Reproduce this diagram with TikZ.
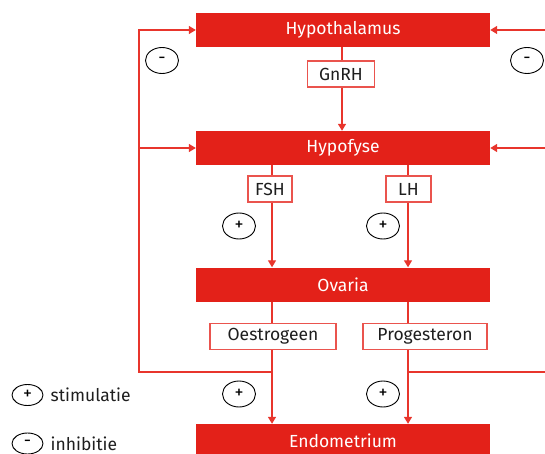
\documentclass[tikz,border=0pt]{standalone}
\usepackage{fontspec}
\setmainfont{Fira Sans}
\usetikzlibrary{positioning,arrows.meta,shapes.geometric}

\definecolor{organred}{HTML}{E32119}
\definecolor{linkred}{HTML}{E8352C}
\definecolor{hormonered}{HTML}{EA544E}
\definecolor{inktext}{HTML}{1E1E1E}

\begin{document}
\begin{tikzpicture} [x=1pt, y=-1pt,
    organ/.style={rectangle,fill=organred,text=white,minimum width=294pt,minimum height=34pt,inner sep=0pt,font=\fontsize{17.5}{20}\selectfont},
    hormone/.style={rectangle,draw=hormonered,line width=1.1pt,fill=white,text=inktext,minimum height=26pt,inner sep=0pt,font=\fontsize{17.5}{20}\selectfont},
    sign/.style={ellipse,draw=black,line width=0.9pt,minimum width=33pt,minimum height=26pt,inner sep=0pt,font=\fontsize{18}{20}\selectfont},
    legend/.style={text=inktext,inner sep=0pt,font=\fontsize{17.5}{20}\selectfont},
    link/.style={draw=linkred,line width=1.3pt},
    feed/.style={link,-{Triangle[length=7pt,width=8pt]}}]
    \useasboundingbox (0,0) rectangle (545,454);

    % organs
    \node[organ] (hypothalamus) at (343,30) {Hypothalamus};
    \node[organ] (hypofyse) at (343,148) {Hypofyse};
    \node[organ] (ovaria) at (343,284.5) {Ovaria};
    \node[organ] (endometrium) at (343,441) {Endometrium};

    % hormones
    \node[hormone,minimum width=67pt] (gnrh) at (341,74) {GnRH};
    \node[hormone,minimum width=44pt] (fsh) at (270,189) {FSH};
    \node[hormone,minimum width=45pt] (lh) at (408.5,189) {LH};
    \node[hormone,minimum width=126pt] (oestrogeen) at (273,336.5) {Oestrogeen};
    \node[hormone,minimum width=124pt] (progesteron) at (425,336.5) {Progesteron};

    % axes of the lines
    \coordinate (gx) at (342,0);
    \coordinate (lx) at (272,0);
    \coordinate (rx) at (408,0);
    \coordinate (ljoin) at (272,372);
    \coordinate (rjoin) at (408,372);
    \coordinate (lback) at (139,372);
    \coordinate (rback) at (560,372);

    \path (hypothalamus.south -| gx) edge [link] (gnrh.north -| gx);
    \path (gnrh.south -| gx) edge [feed] (hypofyse.north -| gx);
    \path (hypofyse.south -| lx) edge [link] (fsh.north -| lx);
    \path (fsh.south -| lx) edge [feed] (ovaria.north -| lx);
    \path (hypofyse.south -| rx) edge [link] (lh.north -| rx);
    \path (lh.south -| rx) edge [feed] (ovaria.north -| rx);
    \path (ovaria.south -| lx) edge [link] (oestrogeen.north -| lx);
    \path (oestrogeen.south -| lx) edge [feed] (endometrium.north -| lx);
    \path (ovaria.south -| rx) edge [link] (progesteron.north -| rx);
    \path (progesteron.south -| rx) edge [feed] (endometrium.north -| rx);

    % feedback
    \draw[feed] (ljoin) -- (lback) |- (hypothalamus.west);
    \draw[feed] (lback |- hypofyse) -- (hypofyse.west);
    \draw[feed] (rjoin) -- (rback) |- (hypothalamus.east);
    \draw[feed] (rback |- hypofyse) -- (hypofyse.east);

    % signs
    \node[sign] (minusleft) at (162,60.5) {-};
    \node[sign] (minusright) at (527,60.5) {-};
    \node[sign] (plusfsh) at (239,226) {+};
    \node[sign] (pluslh) at (383,226) {+};
    \node[sign] (plusoes) at (239,394) {+};
    \node[sign] (plusprog) at (383,394) {+};

    % legend
    \node[sign,minimum width=31pt,minimum height=21pt] (legplus) at (27.5,395) {+};
    \node[sign,minimum width=31pt,minimum height=21pt] (legminus) at (27.5,443.5) {-};
    \node[legend,right=7pt of legplus] (stim) {stimulatie};
    \node[legend,right=7pt of legminus] (inhib) {inhibitie};
\end{tikzpicture}
\end{document}
